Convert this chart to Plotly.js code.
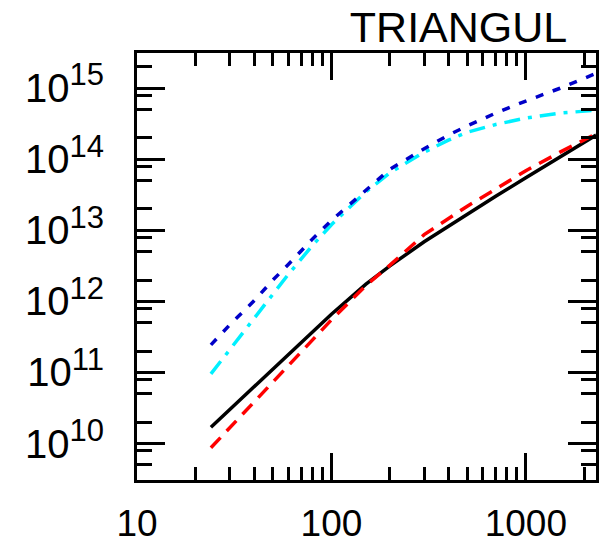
<!DOCTYPE html>
<html>
<head>
<meta charset="utf-8">
<script src="https://cdn.plot.ly/plotly-3.0.1.min.js"></script>
<style>html,body{margin:0;padding:0;background:#fff;}</style>
</head>
<body>
<div id="chart" style="width:608px;height:547px;"></div>
<script>
// Shared x sampling
const xVals = [24, 30, 40, 50, 60, 80, 100, 150, 200, 300, 400, 500, 700, 1000, 1500, 2300];
// Black solid
const blackVals = [1.70e10, 3.02e10, 6.31e10, 1.12e11, 1.82e11, 3.80e11, 6.61e11, 1.74e12, 3.16e12, 6.92e12, 1.15e13, 1.70e13, 3.02e13, 5.50e13, 1.07e14, 2.19e14];
// Red long dashes
const redVals = [8.71e9, 1.66e10, 3.80e10, 7.24e10, 1.23e11, 2.88e11, 5.50e11, 1.66e12, 3.24e12, 8.71e12, 1.46e13, 2.19e13, 3.80e13, 6.92e13, 1.26e14, 2.29e14];
// Cyan dash-dot
const cyanVals = [9.55e10, 2.09e11, 5.75e11, 1.26e12, 2.40e12, 6.17e12, 1.20e13, 3.47e13, 6.46e13, 1.26e14, 1.86e14, 2.40e14, 3.09e14, 3.80e14, 4.47e14, 4.90e14];
// Dark blue short dashes
const blueVals = [2.45e11, 4.68e11, 1.02e12, 2.00e12, 3.31e12, 7.59e12, 1.38e13, 3.72e13, 7.24e13, 1.41e14, 2.19e14, 2.95e14, 4.47e14, 6.61e14, 1.00e15, 1.62e15];

const titleText = 'TRIANGUL';
const xMajorTicks = [10, 100, 1000];
const xTickText = ['10', '100', '1000'];
const xMinorTicks = [20, 30, 40, 50, 60, 70, 80, 90, 200, 300, 400, 500, 600, 700, 800, 900, 2000];
const yMajorTicks = [1e10, 1e11, 1e12, 1e13, 1e14, 1e15];
const yExponents = ['10', '11', '12', '13', '14', '15'];
const yMinorTicks = [5e9, 8e9, 2e10, 5e10, 8e10, 2e11, 5e11, 8e11, 2e12, 5e12, 8e12, 2e13, 5e13, 8e13, 2e14, 5e14, 8e14, 2e15];

const yTickText = yExponents.map(e => '10<sup><span style="font-size:31px">' + e + '</span></sup>');

const FONT = 'Liberation Sans, Arial, Helvetica, sans-serif';

const traces = [
  {x: xVals, y: blackVals, mode: 'lines', line: {color: '#000000', width: 3.5}},
  {x: xVals, y: redVals, mode: 'lines', line: {color: '#ff0000', width: 3.5, dash: '14px,9px'}},
  {x: xVals, y: cyanVals, mode: 'lines', line: {color: '#00f0ff', width: 3.5, dash: '16px,8px,4px,8px'}},
  {x: xVals, y: blueVals, mode: 'lines', line: {color: '#0000c8', width: 3.5, dash: '8px,10px'}}
];

const layout = {
  width: 608, height: 547,
  margin: {l: 137, r: 12, t: 53, b: 67, pad: 0},
  paper_bgcolor: '#ffffff', plot_bgcolor: '#ffffff',
  showlegend: false,
  font: {family: FONT, color: '#000000', size: 37},
  title: {text: titleText, font: {family: FONT, size: 43, color: '#000'},
          xref: 'container', yref: 'container', x: 0.933, xanchor: 'right', y: 0.951, yanchor: 'middle'},
  xaxis: {
    type: 'log', range: [1, 3.361], showgrid: false, zeroline: false,
    showline: true, linecolor: '#000', linewidth: 3, mirror: 'allticks',
    ticks: 'inside', ticklen: 27, tickwidth: 3, tickcolor: '#000',
    tickmode: 'array', tickvals: xMajorTicks, ticktext: xTickText,
    tickfont: {family: FONT, size: 37, color: '#000'},
    ticklabelstandoff: 9,
    minor: {tickmode: 'array', tickvals: xMinorTicks, ticks: 'inside', ticklen: 13, tickwidth: 3, tickcolor: '#000', showgrid: false}
  },
  yaxis: {
    type: 'log', range: [9.487, 15.496], showgrid: false, zeroline: false,
    showline: true, linecolor: '#000', linewidth: 3, mirror: 'allticks',
    ticks: 'inside', ticklen: 28, tickwidth: 3, tickcolor: '#000',
    tickmode: 'array', tickvals: yMajorTicks, ticktext: yTickText,
    tickfont: {family: FONT, size: 40, color: '#000'},
    ticklabelstandoff: 22,
    minor: {tickmode: 'array', tickvals: yMinorTicks, ticks: 'inside', ticklen: 15, tickwidth: 3, tickcolor: '#000', showgrid: false}
  }
};

Plotly.newPlot('chart', traces, layout, {displayModeBar: false, staticPlot: true});
</script>
</body>
</html>
